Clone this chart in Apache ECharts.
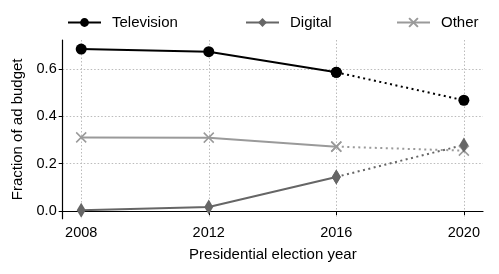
<!DOCTYPE html>
<html><head><meta charset="utf-8">
<script src="https://cdn.jsdelivr.net/npm/echarts@6/dist/echarts.min.js"></script>
<style>html,body{margin:0;padding:0;background:#fff}#c{width:499px;height:274px}</style>
</head><body><div id="c"></div>
<script>
const years = [2008, 2012, 2016, 2020];
const television = [0.684, 0.673, 0.586, 0.468];
const digital = [0.003, 0.017, 0.144, 0.279];
const other = [0.311, 0.310, 0.272, 0.255];
const yTicks = [0, 0.2, 0.4, 0.6];
const xTicks = [2008, 2012, 2016, 2020];

const FONT = 'Liberation Sans, Arial, Helvetica, sans-serif';
const colors = {Television: '#000000', Digital: '#666666', Other: '#9a9a9a'};
const crossPath = 'path://M0,0L10,10M10,0L0,10';
const symbols = {
  Television: {symbol: 'circle', symbolSize: 11},
  Digital: {symbol: 'diamond', symbolSize: [9, 15]},
  Other: {symbol: crossPath, symbolSize: 10}
};

function solidPart(vals){ return years.map((y,i)=> i<=2 ? [y, vals[i]] : [y, null]); }
function dotPart(vals){ return years.map((y,i)=> i>=2 ? [y, vals[i]] : [y, null]); }

function mk(name, vals){
  const c = colors[name], s = symbols[name];
  const isCross = name === 'Other';
  const itemStyle = isCross ? {color: c, borderColor: c, borderWidth: 1.5} : {color: c};
  return [
    {name: name, type: 'line', data: solidPart(vals), symbol: s.symbol, symbolSize: s.symbolSize,
     showSymbol: true, connectNulls: false, lineStyle: {color: c, width: 2}, itemStyle: itemStyle,
     emphasis: {disabled: true}, animation: false, z: 3},
    {name: name + '_proj', type: 'line', data: dotPart(vals),
     symbol: s.symbol, symbolSize: s.symbolSize,
     showSymbol: true, connectNulls: false, lineStyle: {color: c, width: 2, type: [2, 3.5]}, itemStyle: itemStyle,
     emphasis: {disabled: true}, animation: false, z: 2}
  ];
}

const series = [].concat(mk('Other', other), mk('Digital', digital), mk('Television', television));

function leg(name, left){
  return {data: [name], left: left, top: 15, padding: 0, itemWidth: 33, itemHeight: 11, itemGap: 0,
    textStyle: {fontFamily: FONT, fontSize: 15, color: '#000', padding: [0,0,0,6]}, selectedMode: false};
}

const chart = echarts.init(document.getElementById('c'), null, {renderer: 'canvas'});
chart.setOption({
  backgroundColor: '#fff',
  animation: false,
  legend: [leg('Television', 67), leg('Digital', 245), leg('Other', 396)],
  grid: {left: 62.7, right: 16, top: 40, bottom: 55.3, containLabel: false},
  xAxis: {
    type: 'value', min: 2007.42, max: 2020.6,
    name: 'Presidential election year', nameLocation: 'middle', nameGap: 29,
    nameTextStyle: {fontFamily: FONT, fontSize: 15, color: '#000'},
    axisLine: {show: true, lineStyle: {color: '#000', width: 1.2}},
    axisTick: {show: true, length: 4, customValues: xTicks, lineStyle: {color: '#000', width: 1}},
    axisLabel: {customValues: xTicks, formatter: v => String(Math.round(v)), fontFamily: FONT, fontSize: 14.5, color: '#000', margin: 7},
    splitLine: {show: true, lineStyle: {color: '#bbbbbb', type: [1.5, 2], width: 1}}
  },
  yAxis: {
    type: 'value', min: -0.0325, max: 0.7225,
    name: 'Fraction of ad budget', nameLocation: 'middle', nameGap: 37,
    nameTextStyle: {fontFamily: FONT, fontSize: 15, color: '#000'},
    axisLine: {show: true, lineStyle: {color: '#000', width: 1.2}},
    axisTick: {show: true, length: 4, customValues: yTicks, lineStyle: {color: '#000', width: 1}},
    axisLabel: {customValues: yTicks, formatter: v => v.toFixed(1), fontFamily: FONT, fontSize: 14.5, color: '#000', margin: 6},
    splitLine: {show: true, lineStyle: {color: '#bbbbbb', type: [1.5, 2], width: 1}}
  },
  series: series
});
</script></body></html>
